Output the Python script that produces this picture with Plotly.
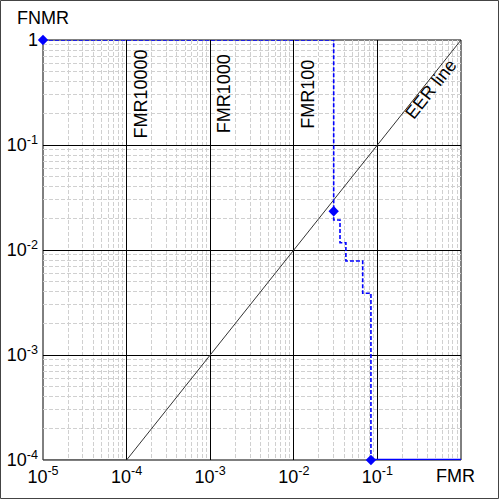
import math
import plotly.graph_objects as go

# DET curve (FMR, FNMR)
curve_fmr = [1e-5, 0.030, 0.030, 0.030, 0.0357, 0.0357, 0.042, 0.042, 0.0667, 0.0667, 0.0837, 0.0837]
curve_fnmr = [1.0, 1.0, 0.0234, 0.0193, 0.0193, 0.01174, 0.01174, 0.00785, 0.00785, 0.00387, 0.00387, 1e-4]
tail_fmr = [0.0837, 1.0]
tail_fnmr = [1e-4, 1e-4]
marker_fmr = [1e-5, 0.030, 0.0837]
marker_fnmr = [1.0, 0.0234, 1e-4]

eer_x = [1e-4, 1.0]
eer_y = [1e-4, 1.0]
floor_x = [1e-5, 1e-4]
floor_y = [1e-4, 1e-4]

x_tickvals = [1e-5, 1e-4, 1e-3, 1e-2, 1e-1]
x_ticktext = ["10<sup>-5</sup>", "10<sup>-4</sup>", "10<sup>-3</sup>", "10<sup>-2</sup>", "10<sup>-1</sup>"]
y_tickvals = [1e-4, 1e-3, 1e-2, 1e-1, 1.0]
y_ticktext = ["10<sup>-4</sup>", "10<sup>-3</sup>", "10<sup>-2</sup>", "10<sup>-1</sup>", "1"]

fmr_lines = [1e-4, 1e-3, 1e-2]
fmr_labels = ["FMR10000", "FMR1000", "FMR100"]

x_minor = [k * 10.0 ** e for e in range(-5, 0) for k in range(2, 10)]
y_minor = [k * 10.0 ** e for e in range(-4, 0) for k in range(2, 10)]

BLUE = "#0000ff"
FONT = "Liberation Sans, Arial, sans-serif"
FS = 18

fig = go.Figure()
fig.add_trace(go.Scatter(x=floor_x, y=floor_y, mode="lines",
                         line=dict(color="#555555", width=1), showlegend=False, cliponaxis=False))
fig.add_trace(go.Scatter(x=eer_x, y=eer_y, mode="lines",
                         line=dict(color="#333333", width=1), showlegend=False))
fig.add_trace(go.Scatter(x=curve_fmr, y=curve_fnmr, mode="lines",
                         line=dict(color=BLUE, width=1.6, dash="4px,2px"), showlegend=False, cliponaxis=False))
fig.add_trace(go.Scatter(x=tail_fmr, y=tail_fnmr, mode="lines",
                         line=dict(color=BLUE, width=2.4), showlegend=False, cliponaxis=False))
fig.add_trace(go.Scatter(x=marker_fmr, y=marker_fnmr, mode="markers",
                         marker=dict(color=BLUE, size=8, symbol="diamond"), showlegend=False, cliponaxis=False))

for xv, lab in zip(fmr_lines, fmr_labels):
    fig.add_annotation(x=math.log10(xv), y=-0.514, text=lab, textangle=-90,
                       showarrow=False, xanchor="left", yanchor="middle", xshift=2,
                       font=dict(family=FONT, size=FS, color="black"))

fig.add_annotation(x=-0.359, y=-0.467, text="EER line", textangle=-51.5, showarrow=False,
                   xanchor="center", yanchor="middle", font=dict(family=FONT, size=FS, color="black"))

fig.add_annotation(xref="paper", yref="paper", x=0.0, y=1.0, yshift=22, text="FNMR",
                   showarrow=False, xanchor="center", yanchor="middle",
                   font=dict(family=FONT, size=FS, color="black"))
fig.add_annotation(xref="paper", yref="paper", x=0.986, y=0.0, yshift=-16, text="FMR",
                   showarrow=False, xanchor="center", yanchor="middle",
                   font=dict(family=FONT, size=FS, color="black"))

# plot-area frame (between grid and traces) and outer image frame
fig.add_shape(type="rect", xref="paper", yref="paper", x0=0, x1=1, y0=0, y1=1,
              line=dict(color="black", width=1), layer="between")
fig.add_shape(type="rect", xref="paper", yref="paper",
              x0=(0.5 - 43) / 418, x1=(498.5 - 43) / 418,
              y0=(460 - 498.5) / 420, y1=(460 - 0.5) / 420,
              line=dict(color="#444444", width=1), layer="above")

axis_common = dict(type="log", showline=False, showgrid=True, gridcolor="black", gridwidth=1,
                   zeroline=False, ticks="", automargin=False, layer="below traces",
                   tickfont=dict(family=FONT, size=FS, color="black"), ticklabelstandoff=4)

minor_common = dict(tickmode="array", showgrid=True, gridcolor="#d0d0d0",
                    griddash="4px,2px", gridwidth=1, ticks="")

fig.update_xaxes(range=[-5, 0], tickmode="array", tickvals=x_tickvals, ticktext=x_ticktext,
                 minor=dict(tickvals=x_minor, **minor_common), **axis_common)
fig.update_yaxes(range=[-4, 0], tickmode="array", tickvals=y_tickvals, ticktext=y_ticktext,
                 minor=dict(tickvals=y_minor, **minor_common), **axis_common)

fig.update_layout(width=500, height=500, margin=dict(l=43, r=39, t=40, b=40, autoexpand=False),
                  paper_bgcolor="white", plot_bgcolor="white", showlegend=False)

fig.write_html("out.html", config={"displayModeBar": False},
               post_script="document.body.style.margin='0';")
